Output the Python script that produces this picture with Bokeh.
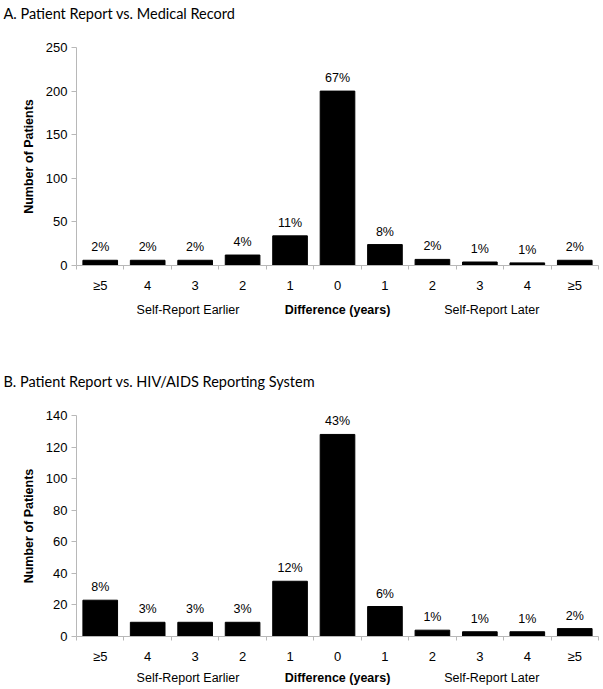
from bokeh.plotting import figure
from bokeh.models import Range1d, FixedTicker, ColumnDataSource, LabelSet, LinearAxis
from bokeh.core.properties import value
from bokeh.layouts import column
from bokeh.embed import file_html
from bokeh.resources import INLINE

# ---- data ----
tick_labels = ["≥5", "4", "3", "2", "1", "0", "1", "2", "3", "4", "≥5"]
side_labels = ["Self-Report Earlier", "Self-Report Later"]
side_pos = [2.35, 8.75]
center_label = "Difference (years)"

title_a = "A. Patient Report vs. Medical Record"
counts_a = [6, 6, 6, 12, 34, 200, 24, 7, 4, 3, 6]
pct_a = ["2%", "2%", "2%", "4%", "11%", "67%", "8%", "2%", "1%", "1%", "2%"]
yticks_a = [0, 50, 100, 150, 200, 250]

title_b = "B. Patient Report vs. HIV/AIDS Reporting System"
counts_b = [23, 9, 9, 9, 35, 128, 19, 4, 3, 3, 5]
pct_b = ["8%", "3%", "3%", "3%", "12%", "43%", "6%", "1%", "1%", "1%", "2%"]
yticks_b = [0, 20, 40, 60, 80, 100, 120, 140]

AXIS_GRAY = "#b8b8b8"
FONT = "Liberation Sans"
LEFT = 76


def make_panel(title, counts, pcts, yticks, height, top, frame_h, row2_standoff, title_gap):
    n = len(tick_labels)
    centers = [i + 0.5 for i in range(n)]
    ymax = yticks[-1]
    p = figure(width=600, height=height,
               x_range=Range1d(0, n), y_range=Range1d(0, ymax),
               min_border_left=LEFT, min_border_right=2,
               min_border_top=top, min_border_bottom=height - top - frame_h,
               output_backend="svg", toolbar_location=None,
               outline_line_color=None, background_fill_color="white")
    xa = p.below[0]
    ya = p.left[0]

    p.title.text = title
    p.title.align = "left"
    p.title.offset = -LEFT + 3
    p.title.standoff = 0
    p.title.text_font = "Lato"
    p.title.text_font_size = "14.5px"
    p.title.text_font_style = "normal"
    p.title.text_color = "black"

    p.grid.grid_line_color = None

    src = ColumnDataSource(dict(x=centers, top=counts, pct=pcts))
    p.vbar(x="x", top="top", width=0.73, source=src,
           fill_color="black", line_color="black")
    p.add_layout(LabelSet(x="x", y="top", text="pct", source=src,
                          text_align="center", text_baseline="middle",
                          y_offset=13, text_font=value(FONT),
                          text_font_size=value("12.5px"), text_color="black"))

    xa.ticker = FixedTicker(ticks=centers, minor_ticks=list(range(n + 1)))
    xa.major_label_overrides = {c: t for c, t in zip(centers, tick_labels)}
    xa.major_tick_out = 0
    xa.major_tick_in = 0
    xa.minor_tick_out = 4
    xa.minor_tick_in = 0
    xa.minor_tick_line_color = AXIS_GRAY
    xa.axis_line_color = AXIS_GRAY
    xa.major_label_standoff = 8
    xa.major_label_text_font = FONT
    xa.major_label_text_font_size = "13px"
    xa.major_label_text_color = "black"

    # second row of x labels
    ax2 = LinearAxis(ticker=FixedTicker(ticks=side_pos, minor_ticks=[]),
                     major_label_overrides={c: t for c, t in zip(side_pos, side_labels)},
                     axis_line_color=None, major_tick_line_color=None,
                     minor_tick_line_color=None, major_tick_out=0, major_tick_in=0,
                     major_label_standoff=row2_standoff,
                     major_label_text_font=FONT, major_label_text_font_size="12.5px",
                     major_label_text_color="black",
                     axis_label=center_label, axis_label_standoff=-17,
                     axis_label_text_font=FONT, axis_label_text_font_size="12.5px",
                     axis_label_text_font_style="bold", axis_label_text_color="black")
    p.add_layout(ax2, "below")

    # blank spacer between the title and the plot area
    spacer = LinearAxis(ticker=FixedTicker(ticks=[n / 2], minor_ticks=[]),
                        major_label_overrides={n / 2: ""},
                        axis_line_color=None, major_tick_line_color="white",
                        minor_tick_line_color=None, major_tick_out=title_gap,
                        major_tick_in=0, minor_tick_out=0, minor_tick_in=0,
                        major_label_standoff=0, major_label_text_font_size="0px")
    p.add_layout(spacer, "above")

    ya.ticker = FixedTicker(ticks=yticks, minor_ticks=[])
    ya.major_tick_out = 5
    ya.major_tick_in = 0
    ya.major_tick_line_color = AXIS_GRAY
    ya.axis_line_color = AXIS_GRAY
    ya.major_label_standoff = 4
    ya.major_label_text_font = FONT
    ya.major_label_text_font_size = "13px"
    ya.major_label_text_color = "black"
    ya.axis_label = "Number of Patients"
    ya.axis_label_text_font = FONT
    ya.axis_label_text_font_size = "12.5px"
    ya.axis_label_text_font_style = "bold"
    ya.axis_label_text_color = "black"
    ya.axis_label_standoff = 7
    return p


pa = make_panel(title_a, counts_a, pct_a, yticks_a, 348, 47, 218, 7, 26)
pb = make_panel(title_b, counts_b, pct_b, yticks_b, 341, 67, 221, 4, 26)

layout = column(pa, pb, spacing=0)
open("out.html", "w").write(file_html(layout, INLINE))
